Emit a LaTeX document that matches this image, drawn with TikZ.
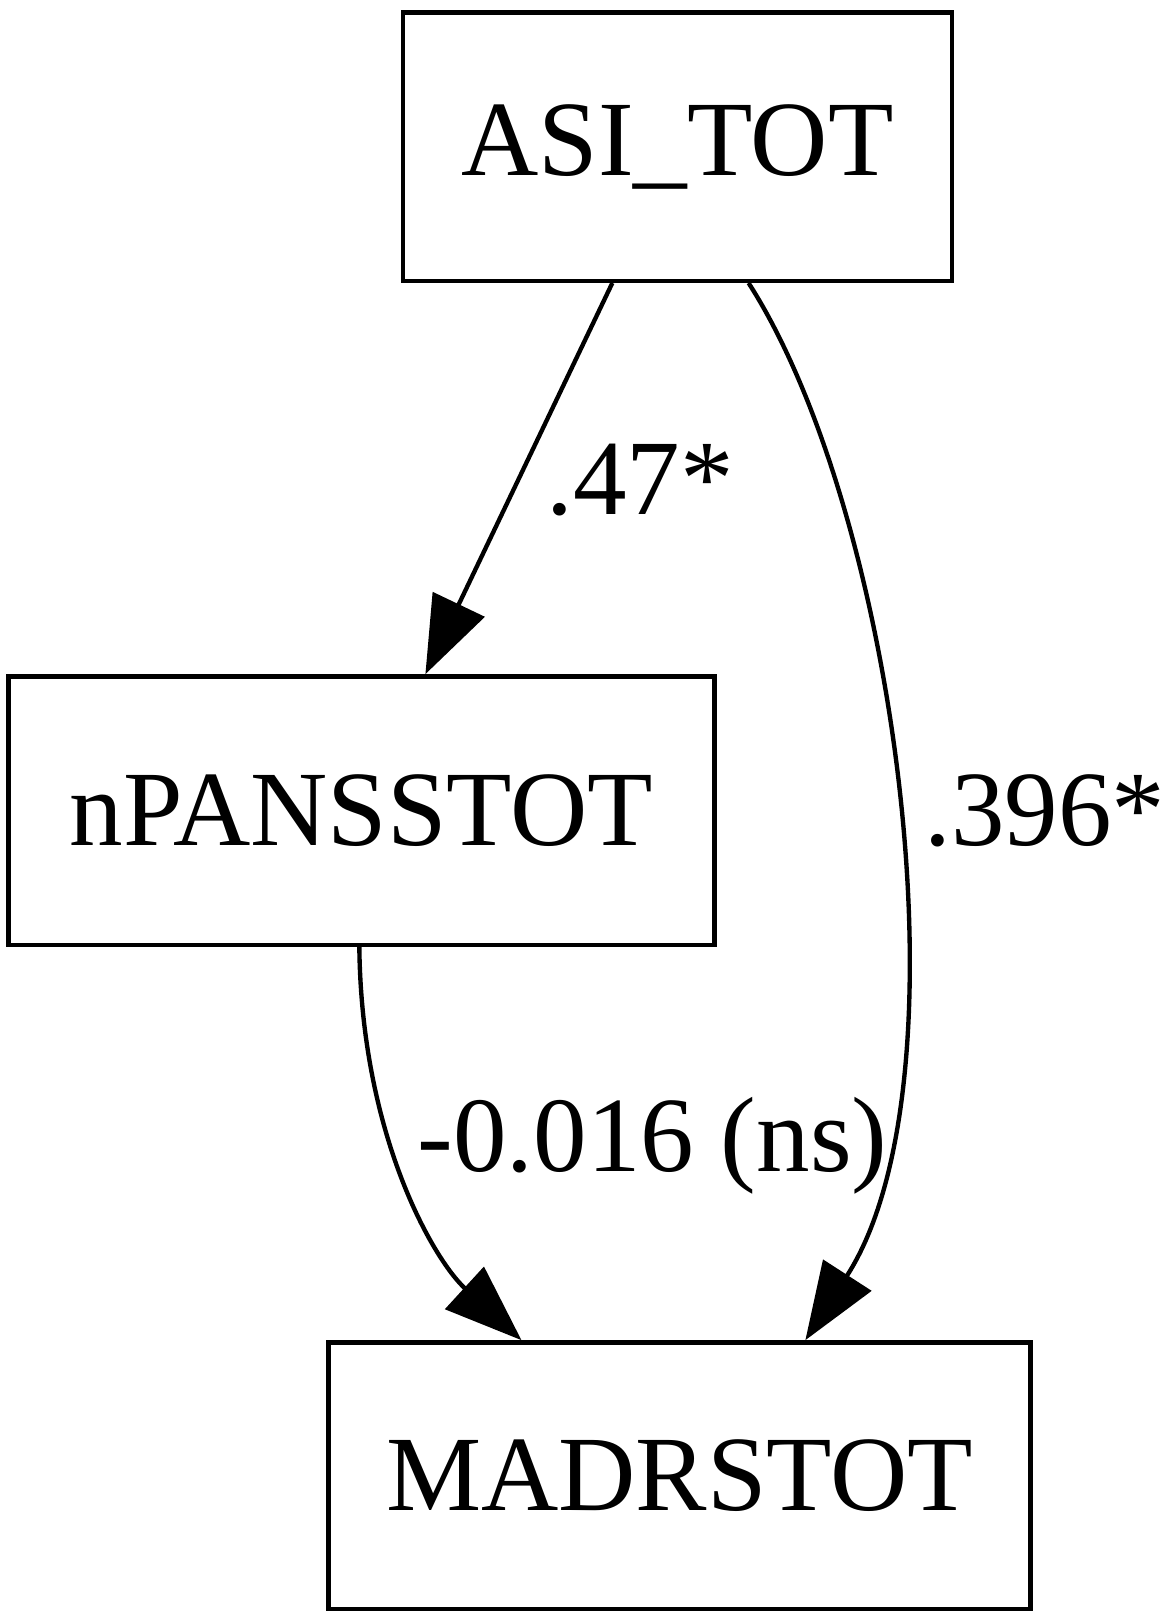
\documentclass[tikz,border=0pt]{standalone}
\usepackage{fontspec}
\setmainfont{Liberation Serif}
\usetikzlibrary{arrows.meta}

\begin{document}
\begin{tikzpicture}[x=0.02cm,y=-0.02cm,line width=2.4pt]

        \useasboundingbox (0,0) rectangle (1130,1567);

        \tikzset{var/.style={draw,rectangle,inner sep=0pt,font=\fontsize{59}{68}\selectfont},
                 effect/.style={arrows = -{Triangle[length=1.5cm,width=1.1cm]}},
                 coef/.style={font=\fontsize{59}{68}\selectfont}}

        \path   (656,142) node (asi) [var,minimum width=10.64cm,minimum height=5.2cm] {ASI\_TOT}
                (350,785) node (pans) [var,minimum width=13.68cm,minimum height=5.2cm] {nPANSSTOT}
                (658,1429) node (madrs) [var,minimum width=13.6cm,minimum height=5.16cm] {MADRSTOT};

        \draw[effect] ([xshift=-1.26cm]asi.south) -- ([xshift=1.24cm]pans.north);
        \draw[effect] ([xshift=1.38cm]asi.south) .. controls (870,500) and (940,1050) .. ([xshift=2.44cm]madrs.north);
        \draw[effect] ([xshift=-0.04cm]pans.south) .. controls (350,1100) and (420,1220) .. ([xshift=-3.06cm]madrs.north);

        \path   (620,465) node (l1) [coef] {.47*}
                (1012,785) node (l2) [coef] {.396*}
                (632,1110) node (l3) [coef] {-0.016 (ns)};

\end{tikzpicture}
\end{document}
